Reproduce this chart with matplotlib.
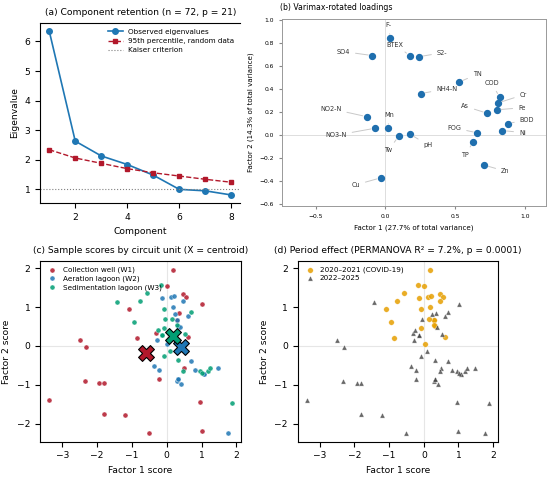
import matplotlib
matplotlib.use('Agg')
import matplotlib.pyplot as plt
import numpy as np

plt.rcParams['font.family'] = ['DejaVu Sans']
plt.rcParams['font.size'] = 6.6

# ---- (a) parallel analysis ----
components = [1, 2, 3, 4, 5, 6, 7, 8]
observed_eig = [6.35, 2.63, 2.13, 1.84, 1.48, 1.00, 0.95, 0.81]
random_p95 = [2.34, 2.06, 1.88, 1.70, 1.56, 1.45, 1.34, 1.24]

# ---- (b) varimax loadings ----
variables = ['F-', 'BTEX', 'S2-', 'SO4', 'TN', 'NH4-N', 'COD', 'Cr', 'Fe', 'As', 'BOD',
             'Ni', 'FOG', 'TP', 'Zn', 'NO2-N', 'Mn', 'NO3-N', 'Tw', 'pH', 'Cu']
load_f1 = [0.036, 0.176, 0.243, -0.093, 0.53, 0.255, 0.82, 0.81, 0.80, 0.73, 0.88,
           0.84, 0.66, 0.63, 0.71, -0.133, 0.02, -0.074, 0.095, 0.176, -0.033]
load_f2 = [0.84, 0.69, 0.68, 0.69, 0.46, 0.36, 0.33, 0.28, 0.22, 0.19, 0.10,
           0.04, 0.02, -0.06, -0.26, 0.16, 0.06, 0.06, -0.01, 0.01, -0.37]

# ---- (c)/(d) sample scores: unit and period of each sample ----
score_f1 = [0.19, 0.00, 0.47, 0.54, 1.02, -1.10, 0.35, 0.30, -0.86, 0.60, -0.31, -2.50,
            -2.31, 0.49, -0.23, -2.34, -1.94, -1.81, -3.38, 0.95, -1.81, -1.21, -0.50, 1.00,
            -0.15, 0.13, 0.21, 0.47, 0.19, 0.23, 0.61, 0.29, 0.33, 0.38, -0.27, 0.02,
            0.69, -0.38, -0.23, 0.80, 1.07, 1.47, 0.29, 0.32, 0.40, 1.76, 0.32, 1.07,
            -0.17, -0.57, -0.76, -1.44, -0.08, 0.69, -0.04, 0.15, -0.95, 0.30, -0.08, -0.25,
            -0.13, 0.53, 0.10, -0.08, 0.33, 0.48, 0.97, 1.01, 1.20, 1.24, 1.87, -0.13]
score_f2 = [1.96, 1.55, 1.33, 1.26, 1.09, 0.94, 0.84, 0.67, 0.21, 0.23, 0.34, 0.14,
            -0.02, -0.57, -0.86, -0.91, -0.95, -0.96, -1.40, -1.43, -1.76, -1.77, -2.24, -2.18,
            1.23, 1.25, 1.28, 1.15, 1.01, 0.81, 0.77, 0.67, 0.50, 0.49, 0.14, 0.06,
            -0.40, -0.52, -0.61, -0.61, -0.73, -0.56, -0.91, -0.86, -0.98, -2.25, -0.86, -0.73,
            1.56, 1.37, 1.15, 1.12, 0.96, 0.87, 0.68, 0.69, 0.62, 0.53, 0.45, 0.41,
            0.29, 0.30, -0.13, -0.26, -0.35, -0.65, -0.64, -0.69, -0.64, -0.57, -1.47, 0.29]
units = ['W1'] * 24 + ['W2'] * 24 + ['W3'] * 24
periods = ['C', 'C', 'C', 'C', 'P', 'C', 'P', 'C', 'C', 'C', 'P', 'P',
           'P', 'P', 'P', 'P', 'P', 'P', 'P', 'P', 'P', 'P', 'P', 'P',
           'C', 'C', 'C', 'C', 'C', 'P', 'P', 'C', 'C', 'P', 'P', 'C',
           'P', 'P', 'P', 'P', 'P', 'P', 'P', 'P', 'P', 'P', 'P', 'P',
           'C', 'C', 'C', 'P', 'C', 'P', 'P', 'C', 'C', 'C', 'C', 'P',
           'P', 'P', 'P', 'P', 'P', 'P', 'P', 'P', 'P', 'P', 'P', 'P']

unit_names = {'W1': 'Collection well (W1)', 'W2': 'Aeration lagoon (W2)',
              'W3': 'Sedimentation lagoon (W3)'}
unit_colors = {'W1': '#b2182b', 'W2': '#1f77b4', 'W3': '#009E73'}

# label offsets in pixels for panel (b), like adjustText would give
label_offsets = {'F-': (-2, 13), 'BTEX': (-15, 11), 'S2-': (23, 4), 'SO4': (-29, 4),
                 'TN': (18, 8), 'NH4-N': (26, 5), 'COD': (-8, 14), 'Cr': (25, 8),
                 'Fe': (25, 2), 'As': (-22, 7), 'BOD': (19, 4), 'Ni': (20, -2),
                 'FOG': (-23, 5), 'TP': (-8, -13), 'Zn': (21, -6), 'NO2-N': (-36, 8),
                 'Mn': (1, 13), 'NO3-N': (-39, -7), 'Tw': (-10, -14), 'pH': (18, -11),
                 'Cu': (-25, -7)}

f1 = np.array(score_f1)
f2 = np.array(score_f2)
units = np.array(units)
periods = np.array(periods)

fig = plt.figure(figsize=(5.5, 4.78), dpi=100)

# (a)
ax = fig.add_axes([0.073, 0.575, 0.364, 0.377])
ax.plot(components, observed_eig, 'o-', color='#1f77b4', ms=4, lw=1.2, label='Observed eigenvalues')
ax.plot(components, random_p95, 's--', color='#b2182b', ms=3.5, lw=1.0, label='95th percentile, random data')
ax.axhline(1, color='gray', ls=':', lw=0.8, label='Kaiser criterion')
ax.spines['right'].set_visible(False)
ax.set_title('(a) Component retention (n = 72, p = 21)', fontsize=6.6)
ax.set_xlabel('Component')
ax.set_ylabel('Eigenvalue')
ax.legend(loc='upper right', fontsize=5.2, frameon=False, labelspacing=0.45,
          borderaxespad=0.4)

# (b)
ax = fig.add_axes([0.513, 0.570, 0.479, 0.391])
ax.axhline(0, color='#dddddd', lw=0.7, zorder=0)
ax.axvline(0, color='#dddddd', lw=0.7, zorder=0)
ax.scatter(load_f1, load_f2, s=18, color='#1f6fae', zorder=3)
for name, x, y in zip(variables, load_f1, load_f2):
    dx, dy = label_offsets[name]
    ax.annotate(name, (x, y), xytext=(dx, dy), textcoords='offset pixels',
                ha='center', va='center', fontsize=4.7, color='#333333',
                arrowprops=dict(arrowstyle='-', color='#c8c8c8', lw=0.7,
                                shrinkA=2, shrinkB=3))
ax.set_xlim(-0.74, 1.15)
ax.set_ylim(-0.61, 1.01)
ax.set_xticks([-0.5, 0.0, 0.5, 1.0])
ax.set_yticks(np.arange(-0.6, 1.01, 0.2))
ax.tick_params(labelsize=4.3, color='#888888', length=2.5)
for sp in ax.spines.values():
    sp.set_color('#999999')
    sp.set_linewidth(0.7)
ax.set_title('(b) Varimax-rotated loadings', fontsize=5.6, loc='left', x=-0.01)
ax.set_xlabel('Factor 1 (27.7% of total variance)', fontsize=5.1)
ax.set_ylabel('Factor 2 (14.3% of total variance)', fontsize=5.1)

# (c)
ax = fig.add_axes([0.073, 0.076, 0.365, 0.377])
ax.axhline(0, color='#e6e6e6', lw=0.8, zorder=0)
ax.axvline(0, color='#e6e6e6', lw=0.8, zorder=0)
for u in ['W1', 'W2', 'W3']:
    m = units == u
    ax.scatter(f1[m], f2[m], s=13, color=unit_colors[u], alpha=0.85,
               edgecolors='white', linewidths=0.3, label=unit_names[u], zorder=2)
for u in ['W1', 'W2', 'W3']:
    m = units == u
    ax.scatter(f1[m].mean(), f2[m].mean(), marker='X', s=130, color=unit_colors[u],
               edgecolors='black', linewidths=0.8, zorder=4)
ax.set_title('(c) Sample scores by circuit unit (X = centroid)', fontsize=6.6)
ax.set_xlabel('Factor 1 score')
ax.set_ylabel('Factor 2 score')
ax.legend(loc='upper left', fontsize=5.2, frameon=False, handletextpad=0.4,
          borderaxespad=0.3, labelspacing=0.3)

# (d)
ax = fig.add_axes([0.541, 0.076, 0.364, 0.377])
ax.axhline(0, color='#e6e6e6', lw=0.8, zorder=0)
ax.axvline(0, color='#e6e6e6', lw=0.8, zorder=0)
m = periods == 'C'
ax.scatter(f1[m], f2[m], s=16, color='#E69F00', alpha=0.85, edgecolors='white',
           linewidths=0.3, label='2020\u20132021 (COVID-19)', zorder=2)
ax.scatter(f1[~m], f2[~m], s=14, marker='^', color='#444444', alpha=0.8,
           edgecolors='white', linewidths=0.3, label='2022\u20132025', zorder=2)
ax.set_title('(d) Period effect (PERMANOVA R\u00b2 = 7.2%, p = 0.0001)', fontsize=6.6)
ax.set_xlabel('Factor 1 score')
ax.set_ylabel('Factor 2 score')
ax.legend(loc='upper left', fontsize=5.2, frameon=False, handletextpad=0.4,
          borderaxespad=0.3, labelspacing=0.3)

fig.savefig('out.png', dpi=100)
